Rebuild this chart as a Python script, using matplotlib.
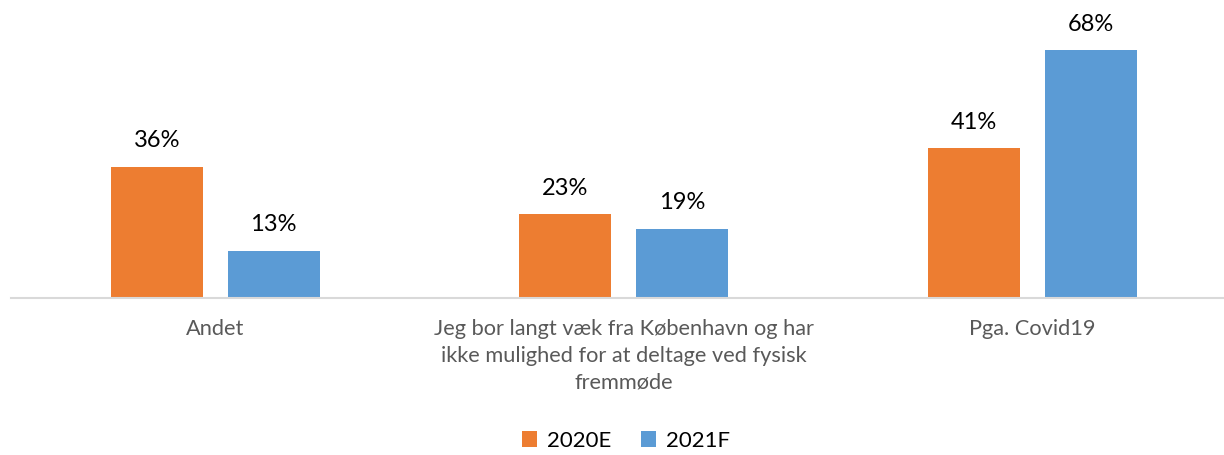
import matplotlib
matplotlib.use("Agg")
import matplotlib.pyplot as plt
import numpy as np

categories = ["Andet",
              "Jeg bor langt væk fra København og har\nikke mulighed for at deltage ved fysisk\nfremmøde",
              "Pga. Covid19"]
series_names = ["2020E", "2021F"]
values_2020E = [36, 23, 41]
values_2021F = [13, 19, 68]
colors = ["#ED7D31", "#5B9BD5"]

plt.rcParams['font.family'] = ['Lato', 'DejaVu Sans']

W, H = 1224, 455
fig = plt.figure(figsize=(W / 100, H / 100), dpi=100)
ax = fig.add_axes([11 / W, (H - 298) / H, (W - 11) / W, 288 / H])

x = np.arange(len(categories))
bw = 0.225
off = 0.143
b1 = ax.bar(x - off, values_2020E, bw, color=colors[0], label=series_names[0])
b2 = ax.bar(x + off, values_2021F, bw, color=colors[1], label=series_names[1])

for bars, vals in ((b1, values_2020E), (b2, values_2021F)):
    for rect, v in zip(bars, vals):
        ax.annotate(f"{v}%", (rect.get_x() + rect.get_width() / 2, v),
                    xytext=(0, 11), textcoords="offset points",
                    ha="center", va="bottom", fontsize=17, color="#000000")

ax.set_xlim(-0.5, -0.5 + (W - 11) / 408.5)
ax.set_ylim(0, 288 / 3.647)
ax.set_yticks([])
ax.set_xticks(x)
ax.set_xticklabels(categories, fontsize=15.7, color="#595959", linespacing=1.42)
ax.tick_params(axis="x", length=0, pad=15)
for s in ["top", "right", "left"]:
    ax.spines[s].set_visible(False)
ax.spines["bottom"].set_color("#D9D9D9")
ax.spines["bottom"].set_linewidth(1.5)
ax.patch.set_alpha(0)

fig.legend(handles=[b1, b2], labels=series_names, loc="center",
           bbox_to_anchor=(626 / W, 1 - 441 / H), ncol=2, frameon=False,
           fontsize=16, handlelength=0.7, handleheight=0.7,
           handletextpad=0.45, columnspacing=1.3)

fig.savefig("out.png", dpi=100, facecolor="white")
